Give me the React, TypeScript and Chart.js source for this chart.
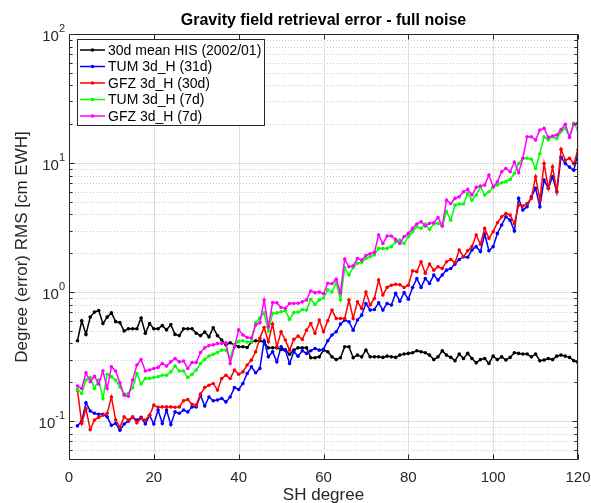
import React, { useEffect, useRef } from "react";
import { Chart, registerables } from "chart.js";

Chart.register(...registerables);

const FONT = '"Liberation Sans", Arial, Helvetica, sans-serif';
const INK = "#262626";

// Spherical-harmonic degrees 2..120
const shDegrees: number[] = Array.from({ length: 119 }, (_, i) => i + 2);

// Degree RMS [cm EWH] per SH degree
const hisMean: number[] = [
  0.42, 0.60, 0.47, 0.64, 0.70, 0.72, 0.57, 0.64, 0.69, 0.59, 0.58, 0.50, 0.52, 0.52, 0.52, 0.63, 0.48, 0.57, 0.52, 0.52, 0.55, 0.51, 0.56, 0.47, 0.46, 0.52, 0.52, 0.52, 0.48,
  0.46, 0.49, 0.45, 0.53, 0.46, 0.425, 0.39, 0.405, 0.39, 0.377, 0.377, 0.372, 0.41, 0.42, 0.42,
  0.41, 0.37, 0.37, 0.37, 0.36, 0.355, 0.33, 0.355, 0.37, 0.37, 0.37, 0.31, 0.31, 0.315, 0.355, 0.345, 0.315, 0.30, 0.31, 0.377, 0.377, 0.31, 0.325, 0.315, 0.355, 0.315, 0.315,
  0.315, 0.312, 0.319, 0.315, 0.312, 0.325, 0.331, 0.335, 0.339, 0.351, 0.345, 0.339, 0.325, 0.30, 0.315, 0.351, 0.325, 0.312, 0.294, 0.331, 0.306, 0.335, 0.306, 0.283,
  0.30, 0.306, 0.28, 0.319, 0.30, 0.315, 0.298, 0.312, 0.339, 0.335, 0.331, 0.331, 0.315, 0.331, 0.294, 0.298, 0.306, 0.30, 0.319, 0.325, 0.319, 0.312, 0.294, 0.283,
];

const tum31d: number[] = [
  0.092, 0.10, 0.139, 0.12, 0.115, 0.113, 0.113, 0.108, 0.093, 0.096, 0.085, 0.095, 0.10, 0.107, 0.102, 0.107, 0.095, 0.111, 0.095, 0.122, 0.096, 0.122, 0.094, 0.118, 0.115, 0.122, 0.118, 0.129, 0.129,
  0.159, 0.131, 0.154, 0.144, 0.146, 0.150, 0.141, 0.154, 0.182, 0.176, 0.196, 0.234, 0.264, 0.237, 0.256, 0.42, 0.315, 0.345, 0.288, 0.377, 0.355, 0.28, 0.345, 0.319, 0.351, 0.335, 0.351, 0.366, 0.355, 0.361,
  0.42, 0.465, 0.493, 0.565, 0.607, 0.589, 0.507, 0.607, 0.663, 0.817, 0.725, 0.734, 0.826, 0.725, 0.817, 0.793, 0.977, 0.85,
  0.99, 0.88, 1.087, 1.276, 1.087, 1.276, 1.167, 1.355, 1.239, 1.355, 1.48, 1.525, 1.648, 1.79, 1.88, 1.86, 2.12, 2.25, 2.06, 2.82, 2.09,
  2.25, 2.85, 3.31, 3.84, 3.61, 2.98, 5.32, 4.32, 4.59, 5.48, 6.37, 4.59, 7.38, 6.37, 7.84, 6.0, 11.1, 9.9, 9.3, 8.8, 11.9,
];

const gfz30d: number[] = [
  0.174, 0.096, 0.125, 0.086, 0.102, 0.107, 0.111, 0.115, 0.154, 0.102, 0.090, 0.108, 0.102, 0.108, 0.097, 0.105, 0.102, 0.111, 0.133, 0.128, 0.129, 0.129, 0.129, 0.128, 0.129, 0.144, 0.147, 0.135, 0.133,
  0.162, 0.182, 0.19, 0.196, 0.174, 0.214, 0.227, 0.214, 0.249, 0.231, 0.241, 0.272, 0.297, 0.345, 0.438, 0.532, 0.412, 0.565, 0.377, 0.493, 0.425, 0.355, 0.43, 0.456, 0.43, 0.507, 0.571, 0.479, 0.607, 0.493,
  0.60, 0.725, 0.625, 0.625, 0.625, 0.867, 0.625, 0.841, 0.746, 1.0, 0.794, 0.893, 1.24, 0.95, 1.09, 1.13, 1.15, 1.14,
  1.087, 1.13, 1.46, 1.44, 1.72, 1.40, 1.65, 1.48, 1.57, 1.525, 1.72, 1.79, 1.69, 2.12, 1.88, 2.09, 2.25, 2.77, 2.35, 3.12, 2.61,
  2.94, 3.45, 3.84, 4.07, 3.95, 3.40, 4.72, 4.64, 4.86, 5.32, 7.84, 5.16, 9.9, 6.37, 9.35, 6.0, 12.8, 10.5, 10.9, 9.9, 12.6,
];

const tum7d: number[] = [
  0.176, 0.164, 0.208, 0.218, 0.179, 0.208, 0.15, 0.231, 0.221, 0.208, 0.184, 0.162, 0.164, 0.182, 0.234, 0.194, 0.214, 0.214, 0.218, 0.221, 0.227, 0.227, 0.241, 0.267, 0.245, 0.245, 0.218, 0.231, 0.249,
  0.28, 0.30, 0.32, 0.33, 0.34, 0.355, 0.355, 0.31, 0.39, 0.415, 0.42, 0.41, 0.41, 0.58, 0.63,
  0.69, 0.50, 0.684, 0.69, 0.705, 0.72, 0.615, 0.695, 0.70, 0.73, 0.725, 0.88, 0.80, 0.87, 0.90, 1.04, 1.0, 1.18, 0.87, 1.54, 1.36, 1.55, 1.67, 1.70, 1.82, 1.88, 1.94,
  2.18, 2.18, 2.18, 2.25, 2.45, 2.53, 2.38, 2.69, 2.94, 3.21, 3.12, 3.37, 3.06, 3.37, 3.41, 3.25, 4.20, 3.61, 4.72, 4.81, 4.81, 5.82, 5.16, 5.65,
  6.56, 5.65, 6.0, 6.48, 6.75, 7.03, 7.16, 7.46, 8.31, 9.93, 10.9, 10.9, 10.7, 9.08, 11.8, 16.0, 15.1, 16.0, 15.5, 17.5, 18.6, 16.0, 20.3, 18.0,
];

const gfz7d: number[] = [
  0.187, 0.179, 0.237, 0.202, 0.223, 0.194, 0.245, 0.179, 0.264, 0.245, 0.198, 0.159, 0.156, 0.208, 0.272, 0.30, 0.245, 0.249, 0.256, 0.261, 0.28, 0.267, 0.288, 0.306, 0.288, 0.292, 0.256, 0.285, 0.285,
  0.34, 0.37, 0.385, 0.39, 0.40, 0.40, 0.405, 0.28, 0.375, 0.51, 0.465, 0.445, 0.44, 0.555, 0.58,
  0.867, 0.54, 0.83, 0.826, 0.76, 0.75, 0.815, 0.815, 0.82, 0.84, 0.87, 1.02, 0.99, 1.0, 0.97, 1.17, 1.16, 1.26, 0.99, 1.80, 1.57, 1.60, 1.82, 1.77, 1.92, 1.98, 2.03,
  2.77, 2.38, 2.72, 2.72, 2.56, 2.38, 2.69, 2.85, 3.12, 3.37, 3.51, 3.25, 3.41, 3.45, 3.79, 3.25, 5.16, 4.86, 5.32, 5.48, 6.0, 6.25, 5.65, 6.48,
  6.64, 6.75, 8.07, 6.56, 7.16, 8.57, 9.08, 8.57, 10.2, 8.41, 10.9, 16.0, 16.0, 15.1, 18.0, 18.6, 15.8, 16.2, 16.5, 18.2, 20.0, 15.8, 20.0, 20.5,
];

const seriesNames = [
  "30d mean HIS (2002/01)",
  "TUM 3d_H (31d)",
  "GFZ 3d_H (30d)",
  "TUM 3d_H (7d)",
  "GFZ 3d_H (7d)",
];
const seriesValues = [hisMean, tum31d, gfz30d, tum7d, gfz7d];
const seriesColors = ["#000000", "#0000ff", "#ff0000", "#00ff00", "#ff00ff"];

const chartTitle = "Gravity field retrieval error - full noise";
const xTitle = "SH degree";
const yTitle = "Degree (error) RMS [cm EWH]";

const xTicks = [0, 20, 40, 60, 80, 100, 120];
const yDecades = [0.1, 1, 10, 100];
const yExponents = ["-1", "0", "1", "2"];
const yMinor = [
  0.06, 0.07, 0.08, 0.09,
  0.2, 0.3, 0.4, 0.5, 0.6, 0.7, 0.8, 0.9,
  2, 3, 4, 5, 6, 7, 8, 9,
  20, 30, 40, 50, 60, 70, 80, 90,
];

const axesPlugin = {
  id: "boxedAxes",
  beforeDatasetsDraw(chart: any) {
    const { ctx, chartArea: a } = chart;
    const xs = chart.scales.x;
    const ys = chart.scales.y;
    ctx.save();
    ctx.lineWidth = 1;
    // minor log grid, dotted
    ctx.strokeStyle = "#c9c9c9";
    ctx.setLineDash([1, 2]);
    ctx.beginPath();
    for (const v of yMinor) {
      const py = Math.round(ys.getPixelForValue(v)) + 0.5;
      ctx.moveTo(a.left, py);
      ctx.lineTo(a.right, py);
    }
    ctx.stroke();
    // major grid, solid
    ctx.setLineDash([]);
    ctx.strokeStyle = "#dedede";
    ctx.beginPath();
    for (const v of yDecades) {
      const py = Math.round(ys.getPixelForValue(v)) + 0.5;
      ctx.moveTo(a.left, py);
      ctx.lineTo(a.right, py);
    }
    for (const v of xTicks) {
      const px = Math.round(xs.getPixelForValue(v)) + 0.5;
      ctx.moveTo(px, a.top);
      ctx.lineTo(px, a.bottom);
    }
    ctx.stroke();
    ctx.restore();
  },
  afterDatasetsDraw(chart: any) {
    const { ctx, chartArea: a } = chart;
    const xs = chart.scales.x;
    const ys = chart.scales.y;
    const L = Math.round(a.left) + 0.5;
    const R = Math.round(a.right) - 0.5;
    const T = Math.round(a.top) + 0.5;
    const B = Math.round(a.bottom) - 0.5;
    ctx.save();

    // axes box and inward ticks
    ctx.strokeStyle = INK;
    ctx.lineWidth = 1;
    ctx.beginPath();
    ctx.rect(L, T, R - L, B - T);
    for (const v of xTicks) {
      const px = Math.round(xs.getPixelForValue(v)) + 0.5;
      ctx.moveTo(px, B);
      ctx.lineTo(px, B - 5);
      ctx.moveTo(px, T);
      ctx.lineTo(px, T + 5);
    }
    for (const v of yDecades) {
      const py = Math.round(ys.getPixelForValue(v)) + 0.5;
      ctx.moveTo(L, py);
      ctx.lineTo(L + 5, py);
      ctx.moveTo(R, py);
      ctx.lineTo(R - 5, py);
    }
    for (const v of yMinor) {
      const py = Math.round(ys.getPixelForValue(v)) + 0.5;
      ctx.moveTo(L, py);
      ctx.lineTo(L + 3, py);
      ctx.moveTo(R, py);
      ctx.lineTo(R - 3, py);
    }
    ctx.stroke();

    // x tick labels
    ctx.fillStyle = INK;
    ctx.font = `15px ${FONT}`;
    ctx.textAlign = "center";
    ctx.textBaseline = "alphabetic";
    for (const v of xTicks) {
      ctx.fillText(String(v), xs.getPixelForValue(v), 482);
    }

    // y tick labels as powers of ten
    ctx.textAlign = "left";
    yDecades.forEach((v, i) => {
      const py = ys.getPixelForValue(v);
      ctx.font = `15px ${FONT}`;
      const bw = ctx.measureText("10").width;
      ctx.font = `11px ${FONT}`;
      const ew = ctx.measureText(yExponents[i]).width;
      const x0 = a.left - 4 - ew - bw;
      ctx.font = `15px ${FONT}`;
      ctx.fillText("10", x0, py + 7);
      ctx.font = `11px ${FONT}`;
      ctx.fillText(yExponents[i], x0 + bw, py - 2);
    });

    // axis titles
    ctx.font = `17px ${FONT}`;
    ctx.textAlign = "center";
    ctx.fillText(xTitle, (a.left + a.right) / 2, 500);
    ctx.save();
    ctx.translate(22, (a.top + a.bottom) / 2);
    ctx.rotate(-Math.PI / 2);
    ctx.textBaseline = "middle";
    ctx.fillText(yTitle, 0, 0);
    ctx.restore();

    // chart title
    ctx.fillStyle = "#000000";
    ctx.font = `bold 16px ${FONT}`;
    ctx.textBaseline = "alphabetic";
    ctx.fillText(chartTitle, (a.left + a.right) / 2, 25);

    // legend
    const bx = 77.5, by = 39.5, bwid = 187, bh = 86;
    ctx.fillStyle = "#ffffff";
    ctx.fillRect(bx, by, bwid, bh);
    ctx.strokeStyle = INK;
    ctx.strokeRect(bx, by, bwid, bh);
    ctx.font = `14px ${FONT}`;
    ctx.textAlign = "left";
    ctx.textBaseline = "middle";
    seriesNames.forEach((name, i) => {
      const cy = 50 + i * 16.5;
      ctx.strokeStyle = seriesColors[i];
      ctx.lineWidth = 1.5;
      ctx.beginPath();
      ctx.moveTo(80, cy);
      ctx.lineTo(105, cy);
      ctx.stroke();
      ctx.fillStyle = seriesColors[i];
      ctx.beginPath();
      ctx.arc(92.5, cy, 1.8, 0, Math.PI * 2);
      ctx.fill();
      ctx.fillStyle = "#000000";
      ctx.fillText(name, 108, cy + 1);
    });

    ctx.restore();
  },
};

export default function App() {
  const canvasRef = useRef<HTMLCanvasElement | null>(null);

  useEffect(() => {
    const canvas = canvasRef.current;
    if (!canvas) return;
    const datasets = seriesValues.map((vals, i) => ({
      label: seriesNames[i],
      data: shDegrees.map((d, k) => ({ x: d, y: vals[k] })),
      borderColor: seriesColors[i],
      backgroundColor: seriesColors[i],
      pointBackgroundColor: seriesColors[i],
      borderWidth: 1.5,
      pointRadius: 1.8,
      pointBorderWidth: 0,
      tension: 0,
      order: seriesValues.length - i,
    }));
    const chart = new Chart(canvas, {
      type: "line",
      data: { datasets },
      options: {
        animation: false,
        responsive: false,
        devicePixelRatio: 1,
        layout: { padding: { top: 34, right: 13, bottom: 0, left: 0 } },
        plugins: {
          legend: { display: false },
          title: { display: false },
          tooltip: { enabled: false },
        },
        scales: {
          x: {
            type: "linear",
            min: 0,
            max: 120,
            grid: { display: false },
            border: { display: false },
            ticks: { display: false, stepSize: 20 },
            afterFit: (s: any) => {
              s.height = 43;
            },
          },
          y: {
            type: "logarithmic",
            min: 0.05,
            max: 100,
            grid: { display: false },
            border: { display: false },
            ticks: { display: false },
            afterFit: (s: any) => {
              s.width = 69;
            },
          },
        },
      },
      plugins: [axesPlugin],
    });
    return () => chart.destroy();
  }, []);

  return (
    <div style={{ position: "absolute", left: 0, top: 0, width: 591, height: 503, background: "#fff" }}>
      <canvas ref={canvasRef} width={591} height={503} style={{ display: "block" }} />
    </div>
  );
}
